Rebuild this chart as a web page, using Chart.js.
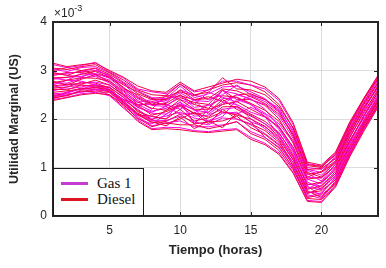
<!DOCTYPE html>
<html>
<head>
<meta charset="utf-8">
<script src="https://cdn.jsdelivr.net/npm/chart.js@4.4.0/dist/chart.umd.min.js"></script>
<style>
  html, body { margin: 0; padding: 0; background: #fff; }
  #wrap { position: relative; width: 386px; height: 268px; }
  #legend {
    position: absolute; left: 53px; top: 168px; width: 89px; height: 46px;
    background: #fff; border: 1.5px solid #1a1a1a;
    font-family: "Liberation Serif", "Times New Roman", serif; font-size: 15px; color: #111;
  }
  .row { position: absolute; left: 0; display: flex; align-items: center; }
  .row .ln { width: 27px; height: 3px; margin-left: 7px; margin-right: 9px; }
</style>
</head>
<body>
<div id="wrap">
  <canvas id="c" width="386" height="268"></canvas>
  <div id="legend">
    <div class="row" style="top:6px"><span class="ln" style="background:#c43ccf"></span>Gas 1</div>
    <div class="row" style="top:22px"><span class="ln" style="background:#dc1420"></span>Diesel</div>
  </div>
</div>
<script>
// hours 1..24
const hours = [1,2,3,4,5,6,7,8,9,10,11,12,13,14,15,16,17,18,19,20,21,22,23,24];
const xTicks = [5, 10, 15, 20];
const yTicks = [0, 1, 2, 3, 4];

// Utilidad marginal, in units of 1e-3 US
const gas1 = [2.40,2.45,2.52,2.55,2.48,2.22,1.98,1.80,1.83,1.82,1.76,1.74,1.78,1.80,1.62,1.50,1.30,0.90,0.32,0.30,0.62,1.25,1.78,2.26];
const gas2 = [2.46,2.52,2.55,2.60,2.50,2.30,2.05,1.86,1.92,1.96,1.84,1.84,1.88,1.94,1.74,1.62,1.42,0.98,0.44,0.36,0.70,1.34,1.84,2.30];
const gas3 = [2.52,2.54,2.62,2.62,2.58,2.38,2.10,1.96,1.97,2.06,1.94,1.88,2.02,2.00,1.88,1.70,1.48,1.10,0.50,0.46,0.80,1.40,1.94,2.40];
const gas4 = [2.60,2.62,2.66,2.72,2.60,2.40,2.20,2.00,2.06,2.14,2.02,1.96,2.12,2.14,1.94,1.84,1.62,1.16,0.60,0.54,0.84,1.48,1.98,2.48];
const gas5 = [2.66,2.70,2.74,2.76,2.70,2.48,2.24,2.12,2.10,2.26,2.06,2.08,2.20,2.24,2.08,1.90,1.70,1.30,0.66,0.62,0.92,1.52,2.06,2.50];
const gas6 = [2.74,2.74,2.84,2.88,2.74,2.56,2.30,2.16,2.22,2.34,2.18,2.14,2.34,2.30,2.14,2.04,1.82,1.36,0.76,0.66,0.98,1.62,2.12,2.60];
const gas7 = [2.82,2.86,2.88,2.94,2.84,2.60,2.42,2.28,2.26,2.48,2.24,2.28,2.42,2.44,2.30,2.12,1.90,1.52,0.80,0.78,1.06,1.66,2.22,2.64];
const gas8 = [2.90,2.94,2.98,3.04,2.86,2.72,2.46,2.34,2.38,2.54,2.38,2.36,2.58,2.52,2.40,2.30,2.06,1.60,0.94,0.84,1.14,1.78,2.26,2.74];
const gas9 = [3.02,2.98,3.06,3.08,2.95,2.76,2.58,2.44,2.42,2.68,2.44,2.52,2.66,2.68,2.56,2.42,2.18,1.76,1.00,0.96,1.20,1.84,2.36,2.80];
const gas10 = [3.12,3.06,3.10,3.17,2.98,2.84,2.62,2.56,2.52,2.72,2.56,2.60,2.78,2.78,2.70,2.62,2.38,1.88,1.08,1.03,1.30,1.90,2.42,2.88];
const gas11 = [2.50,2.48,2.60,2.66,2.62,2.30,2.00,1.90,2.10,2.30,2.20,1.95,2.05,2.40,2.30,2.05,1.66,1.20,0.56,0.70,1.00,1.56,2.02,2.44];
const gas12 = [2.70,2.80,2.78,2.70,2.60,2.40,2.30,2.30,2.30,2.20,2.40,2.10,2.30,2.50,2.42,2.20,1.84,1.40,0.70,0.56,0.88,1.50,2.08,2.56];
const gas13 = [2.96,2.90,2.86,3.00,2.90,2.64,2.38,2.20,2.50,2.40,2.30,2.55,2.45,2.35,2.48,2.36,2.14,1.68,0.88,0.72,1.08,1.70,2.18,2.70];
const gas14 = [2.58,2.66,2.70,2.66,2.56,2.34,2.08,2.06,2.00,2.36,1.90,2.20,2.60,2.28,2.00,1.80,1.56,1.02,0.40,0.48,0.76,1.36,1.88,2.34];
const gas15 = [2.44,2.56,2.62,2.70,2.66,2.44,2.24,2.14,2.26,2.10,2.12,2.30,2.14,2.10,2.24,2.10,1.78,1.34,0.62,0.40,0.68,1.30,1.80,2.28];
const gas16 = [2.84,2.80,2.94,2.90,2.80,2.52,2.34,2.40,2.34,2.60,2.50,2.40,2.50,2.70,2.50,2.40,2.22,1.72,0.96,0.90,1.24,1.86,2.34,2.82];

const diesel1 = [2.38,2.44,2.50,2.53,2.50,2.25,1.95,1.78,1.80,1.78,1.74,1.72,1.75,1.78,1.58,1.47,1.27,0.88,0.30,0.28,0.60,1.22,1.75,2.24];
const diesel2 = [2.44,2.48,2.58,2.56,2.55,2.28,2.02,1.84,1.92,1.88,1.88,1.80,1.86,1.95,1.70,1.58,1.35,0.95,0.38,0.44,0.66,1.28,1.82,2.30];
const diesel3 = [2.55,2.58,2.62,2.65,2.60,2.34,2.10,1.92,1.95,2.10,1.90,1.94,1.96,2.06,1.82,1.68,1.46,1.05,0.48,0.52,0.75,1.36,1.90,2.38];
const diesel4 = [2.62,2.60,2.70,2.68,2.65,2.45,2.15,2.05,2.00,2.20,1.96,2.02,2.15,2.08,2.00,1.85,1.58,1.15,0.55,0.62,0.88,1.44,1.96,2.44];
const diesel5 = [2.68,2.72,2.72,2.80,2.70,2.50,2.28,2.08,2.15,2.28,2.12,2.04,2.25,2.26,2.10,1.95,1.72,1.25,0.64,0.70,0.95,1.55,2.06,2.55];
const diesel6 = [2.75,2.80,2.85,2.84,2.78,2.58,2.35,2.22,2.18,2.40,2.20,2.20,2.30,2.36,2.20,2.05,1.84,1.42,0.76,0.80,1.02,1.62,2.15,2.60];
const diesel7 = [2.85,2.86,2.92,2.98,2.85,2.65,2.44,2.30,2.32,2.50,2.30,2.22,2.48,2.45,2.32,2.18,1.95,1.55,0.86,0.90,1.10,1.70,2.22,2.68];
const diesel8 = [2.95,2.90,3.00,3.05,2.92,2.74,2.52,2.40,2.40,2.60,2.40,2.42,2.62,2.58,2.46,2.32,2.10,1.68,0.96,0.98,1.18,1.80,2.32,2.76];
const diesel9 = [3.05,3.02,3.08,3.12,2.96,2.80,2.60,2.50,2.48,2.72,2.50,2.55,2.85,2.62,2.60,2.50,2.25,1.82,1.06,1.02,1.26,1.88,2.40,2.84];
const diesel10 = [3.15,3.08,3.12,3.15,3.00,2.86,2.68,2.58,2.55,2.76,2.58,2.66,2.74,2.82,2.78,2.66,2.42,1.92,1.11,1.05,1.32,1.94,2.43,2.90];
const diesel11 = [2.48,2.54,2.64,2.60,2.58,2.40,2.18,1.98,1.90,2.00,2.14,1.90,2.20,2.00,1.90,1.76,1.52,1.10,0.46,0.58,0.82,1.42,1.92,2.40];
const diesel12 = [2.78,2.70,2.82,2.92,2.76,2.50,2.26,2.36,2.28,2.44,2.34,2.30,2.60,2.40,2.40,2.28,2.00,1.50,0.80,0.92,1.14,1.74,2.24,2.66];
const diesel13 = [3.00,3.06,3.00,2.92,2.88,2.70,2.56,2.42,2.46,2.56,2.48,2.60,2.70,2.75,2.70,2.56,2.30,1.80,1.04,1.00,1.28,1.90,2.42,2.86];
const diesel14 = [2.64,2.66,2.76,2.74,2.64,2.36,2.12,1.98,2.18,2.30,2.10,2.14,2.40,2.20,2.06,1.90,1.64,1.22,0.52,0.38,0.72,1.34,1.86,2.36];
const diesel15 = [2.42,2.50,2.56,2.62,2.56,2.32,2.08,1.94,1.86,2.04,1.80,1.96,1.82,2.12,1.94,1.62,1.40,1.00,0.36,0.34,0.64,1.26,1.80,2.28];
const diesel16 = [2.90,2.96,2.96,3.00,2.90,2.62,2.50,2.30,2.42,2.48,2.40,2.46,2.36,2.50,2.52,2.40,2.16,1.64,0.90,0.80,1.12,1.76,2.30,2.74];

const gasSeries = [gas1, gas2, gas3, gas4, gas5, gas6, gas7, gas8, gas9, gas10, gas11, gas12, gas13, gas14, gas15, gas16];
const dieselSeries = [diesel1, diesel2, diesel3, diesel4, diesel5, diesel6, diesel7, diesel8, diesel9, diesel10, diesel11, diesel12, diesel13, diesel14, diesel15, diesel16];

const GAS_COLOR = 'rgb(255, 0, 220)';
const DIESEL_COLOR = 'rgb(240, 0, 70)';

function makeSet(values, color, label) {
    return {
        label: label,
        data: values.map((v, i) => ({ x: hours[i], y: v })),
        borderColor: color,
        borderWidth: 1,
        pointRadius: 0,
        tension: 0,
        fill: false
    };
}

// interleave the two fuels so neither sits fully on top
const datasets = [];
for (let i = 0; i < gasSeries.length; i++) {
    datasets.push(makeSet(dieselSeries[i], DIESEL_COLOR, 'Diesel'));
    datasets.push(makeSet(gasSeries[i], GAS_COLOR, 'Gas 1'));
}

// MATLAB-like box, inward ticks and the x10^-3 exponent
const framePlugin = {
    id: 'frame',
    afterDraw(chart) {
        const { ctx, chartArea: a, scales } = chart;
        ctx.save();
        ctx.strokeStyle = '#262626';
        ctx.lineWidth = 1;
        xTicks.forEach(t => {
            const px = Math.round(scales.x.getPixelForValue(t)) + 0.5;
            ctx.beginPath();
            ctx.moveTo(px, a.bottom); ctx.lineTo(px, a.bottom - 4);
            ctx.moveTo(px, a.top); ctx.lineTo(px, a.top + 4);
            ctx.stroke();
        });
        yTicks.forEach(t => {
            const py = Math.round(scales.y.getPixelForValue(t)) + 0.5;
            ctx.beginPath();
            ctx.moveTo(a.left, py); ctx.lineTo(a.left + 4, py);
            ctx.moveTo(a.right, py); ctx.lineTo(a.right - 4, py);
            ctx.stroke();
        });
        ctx.lineWidth = 2;
        ctx.strokeRect(a.left, a.top, a.right - a.left, a.bottom - a.top);

        ctx.fillStyle = '#262626';
        ctx.textBaseline = 'alphabetic';
        ctx.font = '12px "Liberation Sans", Arial, sans-serif';
        ctx.fillText('\u00d710', a.left + 1, a.top - 5);
        const w = ctx.measureText('\u00d710').width;
        ctx.font = '9px "Liberation Sans", Arial, sans-serif';
        ctx.fillText('-3', a.left + 1 + w, a.top - 11);
        ctx.restore();
    }
};

const tickFont = { family: '"Liberation Sans", Arial, sans-serif', size: 12 };
const titleFont = { family: '"Liberation Sans", Arial, sans-serif', size: 13, weight: 'bold' };

new Chart(document.getElementById('c'), {
    type: 'line',
    data: { datasets },
    plugins: [framePlugin],
    options: {
        responsive: false,
        animation: false,
        layout: { padding: { top: 22, right: 8, left: 0, bottom: 0 } },
        plugins: { legend: { display: false }, tooltip: { enabled: false } },
        scales: {
            x: {
                type: 'linear',
                min: 1,
                max: 24,
                afterBuildTicks: s => { s.ticks = xTicks.map(v => ({ value: v })); },
                afterFit: s => { s.height = 52; },
                grid: { color: '#dcdcdc', lineWidth: 1, drawTicks: false },
                border: { display: false },
                ticks: { color: '#262626', font: tickFont, padding: 7, maxRotation: 0 },
                title: { display: true, text: 'Tiempo (horas)', color: '#262626', font: titleFont, padding: { top: 0, bottom: 10 } }
            },
            y: {
                min: 0,
                max: 4,
                afterBuildTicks: s => { s.ticks = yTicks.map(v => ({ value: v })); },
                afterFit: s => { s.width = 53; },
                grid: { color: '#dcdcdc', lineWidth: 1, drawTicks: false },
                border: { display: false },
                ticks: { color: '#262626', font: tickFont, padding: 6 },
                title: { display: true, text: 'Utilidad Marginal (US)', color: '#262626', font: Object.assign({}, titleFont, { size: 12.5 }), padding: { top: 7, bottom: 0 } }
            }
        }
    }
});
</script>
</body>
</html>
